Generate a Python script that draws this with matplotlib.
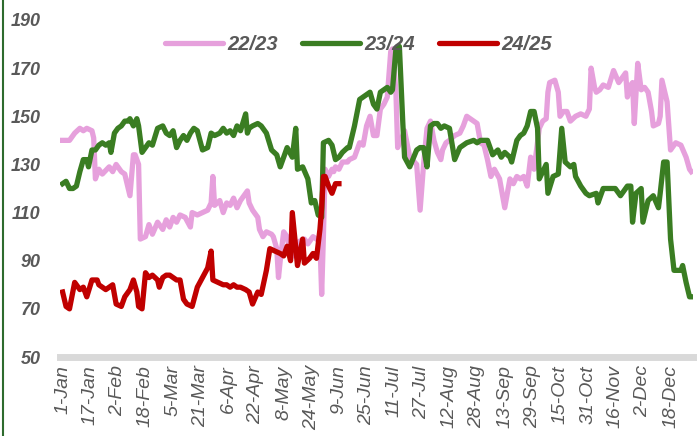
import matplotlib.pyplot as plt
from matplotlib.lines import Line2D

# -------------------------------
# Data (day of year, value)
# -------------------------------
days_2223 = [0, 4, 7, 10, 12, 14, 17, 18, 19, 21, 23, 27, 29, 31, 34, 36, 39, 41, 42, 44,
             45, 48, 50, 52, 55, 58, 60, 62, 64, 66, 68, 71, 74, 75, 78, 81, 84, 86, 87, 88,
             91, 93, 95, 97, 99, 101, 103, 106, 107, 108, 110, 113, 114, 116, 118, 121, 122, 124, 125, 126,
             128, 130, 132, 135, 137, 140, 142, 145, 147, 149, 150, 151, 152, 154, 156, 157, 158, 160, 162, 165,
             166, 169, 171, 172, 174, 176, 178, 180, 182, 184, 186, 188, 190, 191, 193, 194, 197, 198, 201, 205,
             207, 209, 211, 213, 215, 217, 219, 220, 222, 224, 227, 230, 232, 234, 236, 238, 240, 242, 244, 246,
             248, 250, 253, 256, 259, 261, 263, 265, 267, 269, 271, 273, 276, 278, 280, 281, 282, 285, 287, 288,
             290, 292, 294, 297, 300, 303, 305, 306, 308, 309, 311, 313, 316, 319, 322, 324, 326, 327, 329, 330,
             331, 333, 335, 337, 339, 341, 342, 345, 346, 347, 350, 352, 355, 358, 361, 363, 364]
vals_2223 = [140, 140, 143, 145, 144, 145, 144, 141, 124, 128, 126, 129, 127, 130, 127, 126, 117, 134, 134, 130,
             99, 100, 105, 101, 106, 103, 107, 104, 108, 106, 109, 108, 104, 110, 109, 110, 111, 114, 125, 113,
             115, 110, 114, 113, 116, 112, 115, 118, 119, 114, 111, 108, 103, 100, 102, 101, 100, 95, 83, 90,
             102, 100, 92, 92, 98, 99, 97, 100, 99, 98, 76, 100, 128, 125, 128, 127, 129, 128, 131, 131,
             132, 133, 137, 139, 138, 146, 150, 142, 142, 153, 155, 158, 177, 178, 160, 137, 142, 144, 133, 130,
             111, 130, 145, 148, 140, 135, 132, 136, 139, 140, 142, 143, 146, 150, 149, 148, 147, 139, 138, 132,
             125, 128, 124, 112, 124, 122, 125, 124, 125, 121, 133, 128, 145, 148, 149, 160, 164, 165, 160, 150,
             152, 152, 148, 150, 151, 150, 153, 170, 162, 160, 161, 163, 162, 169, 164, 166, 168, 158, 163, 164,
             147, 172, 161, 162, 160, 152, 146, 147, 150, 165, 156, 136, 139, 138, 133, 128, 127]

days_2324 = [0, 2, 4, 6, 8, 10, 12, 14, 15, 17, 19, 21, 23, 25, 27, 28, 30, 32, 34, 36,
             38, 39, 41, 43, 44, 46, 48, 50, 52, 55, 58, 60, 62, 64, 66, 68, 70, 72, 74, 76,
             78, 81, 84, 86, 88, 91, 93, 95, 97, 99, 101, 103, 106, 107, 108, 110, 113, 115, 118, 121,
             124, 126, 128, 130, 133, 135, 136, 139, 142, 144, 146, 148, 150, 151, 154, 156, 158, 160, 162, 165,
             166, 169, 172, 174, 176, 178, 180, 182, 184, 186, 188, 190, 191, 193, 194, 195, 197, 198, 201, 205,
             207, 209, 211, 213, 215, 217, 219, 221, 224, 227, 230, 232, 234, 238, 240, 242, 246, 248, 249, 252,
             254, 256, 259, 260, 263, 265, 267, 269, 271, 273, 275, 276, 278, 280, 281, 284, 287, 289, 291, 294,
             296, 297, 300, 303, 305, 309, 310, 313, 316, 320, 323, 327, 329, 330, 332, 335, 336, 339, 342, 345,
             346, 348, 350, 352, 354, 358, 359, 361, 363, 364]
vals_2324 = [122, 123, 120, 120, 121, 127, 132, 132, 129, 136, 136, 138, 139, 138, 139, 135, 143, 145, 146, 148,
             148, 149, 146, 149, 146, 135, 137, 139, 138, 145, 146, 143, 142, 144, 137, 140, 142, 140, 143, 145,
             144, 136, 137, 143, 142, 143, 145, 143, 144, 142, 146, 144, 151, 143, 145, 146, 147, 146, 143, 136,
             134, 129, 133, 137, 133, 145, 128, 129, 124, 114, 115, 109, 108, 139, 140, 138, 132, 133, 135, 137,
             137, 146, 157, 158, 159, 160, 155, 153, 160, 161, 162, 160, 161, 178, 179, 179, 147, 133, 129, 136,
             137, 137, 129, 146, 147, 147, 145, 146, 145, 132, 137, 138, 139, 140, 139, 140, 140, 136, 134, 136,
             133, 135, 133, 131, 140, 142, 143, 146, 152, 152, 145, 124, 127, 130, 118, 125, 126, 145, 131, 129,
             130, 125, 121, 118, 117, 118, 114, 120, 120, 120, 117, 121, 121, 106, 118, 120, 106, 115, 117, 112,
             118, 131, 131, 99, 86, 86, 88, 81, 75, 75]

days_2425 = [0, 2, 4, 7, 10, 12, 14, 17, 20, 21, 23, 25, 27, 29, 31, 34, 36, 39, 41, 43,
             44, 46, 48, 50, 52, 55, 56, 58, 60, 62, 64, 66, 68, 70, 72, 75, 78, 81, 84, 86,
             87, 90, 93, 95, 97, 99, 101, 103, 106, 108, 110, 113, 115, 118, 120, 123, 126, 128, 130, 132,
             133, 136, 139, 140, 143, 145, 147, 149, 150, 151, 152, 154, 156, 158, 160]
vals_2425 = [77, 71, 70, 81, 78, 79, 75, 82, 82, 80, 79, 78, 79, 80, 72, 71, 75, 78, 82, 77,
             71, 70, 85, 83, 84, 82, 79, 83, 84, 84, 83, 82, 82, 74, 72, 71, 79, 83, 87, 94,
             82, 81, 80, 80, 79, 80, 79, 79, 78, 77, 72, 77, 76, 86, 95, 94, 93, 92, 96, 90,
             110, 88, 99, 89, 91, 93, 91, 103, 112, 125, 125, 121, 118, 122, 122]

tick_days = list(range(0, 353, 16))
tick_labels = ['1-Jan', '17-Jan', '2-Feb', '18-Feb', '5-Mar', '21-Mar', '6-Apr', '22-Apr',
               '8-May', '24-May', '9-Jun', '25-Jun', '11-Jul', '27-Jul', '12-Aug', '28-Aug',
               '13-Sep', '29-Sep', '15-Oct', '31-Oct', '16-Nov', '2-Dec', '18-Dec']
y_ticks = [50, 70, 90, 110, 130, 150, 170, 190]

# -------------------------------
# Plot
# -------------------------------
plt.rcParams['font.family'] = ['Liberation Sans', 'DejaVu Sans']

fig = plt.figure(figsize=(6.97, 4.36), dpi=100)
ax = fig.add_axes([60 / 697, 1 - 357 / 436, 633 / 697, 337 / 436])

ax.plot(days_2223, vals_2223, color='#e6a0dc', lw=3.8, label='22/23', solid_joinstyle='round')
ax.plot(days_2324, vals_2324, color='#3a7d22', lw=3.8, label='23/24', solid_joinstyle='round')
ax.plot(days_2425, vals_2425, color='#c00000', lw=3.8, label='24/25', solid_joinstyle='round')

ax.set_xlim(-1.5, 365)
ax.set_ylim(50, 190)
ax.set_yticks(y_ticks)
ax.set_yticklabels([str(v) for v in y_ticks], fontsize=13, fontweight='bold',
                   fontstyle='italic', color='#595959')
ax.set_xticks(tick_days)
ax.set_xticklabels(tick_labels, rotation=90, fontsize=14, fontstyle='italic', color='#595959')
ax.tick_params(axis='both', length=0)
ax.tick_params(axis='y', pad=14)
ax.tick_params(axis='x', pad=6)

for s in ['top', 'right', 'left']:
    ax.spines[s].set_visible(False)
ax.spines['bottom'].set_color('#d9d9d9')
ax.spines['bottom'].set_linewidth(5)

leg = ax.legend(loc='center', bbox_to_anchor=(0.514, 0.897), bbox_transform=fig.transFigure,
                ncol=3, frameon=False, handlelength=2.9, handletextpad=0.2, columnspacing=1.2,
                prop={'size': 14.5, 'weight': 'bold', 'style': 'italic'})
for t in leg.get_texts():
    t.set_color('#595959')
for h in leg.legend_handles:
    h.set_solid_capstyle('round')

# dark green border on the left
fig.add_artist(Line2D([3 / 697, 3 / 697], [0, 1], color='#2e6b2e', lw=1.5))

plt.savefig('out.png', dpi=100)
